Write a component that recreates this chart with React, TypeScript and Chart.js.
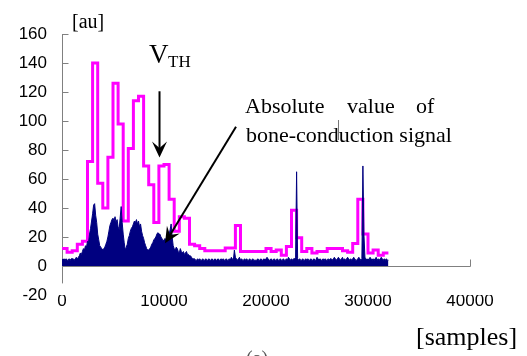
import { useEffect, useRef } from 'react';
import { Chart, registerables } from 'chart.js';

Chart.register(...registerables);

// ---- data ----
// threshold V_TH, one value per block of 500 samples (0 .. 32000)
const MAG_BLOCK = 500;
const thresholdValues = [
  12, 9.5, 10.5, 15, 17, 72, 140, 57, 40, 75,
  126, 98, 31, 81, 114, 117, 69, 56, 30, 69,
  70, 46, 24, 34, 33, 15, 14, 12, 10.5, 10.5,
  10.5, 10.5, 12.5, 12.5, 28, 10, 10, 10, 10, 10,
  12, 10, 11, 7.5, 13.5, 38.5, 19.5, 10, 12, 9,
  10, 10, 12, 12, 12, 10.5, 9.5, 15.5, 46, 22,
  9, 11, 7.5, 9,
];

// absolute value of bone-conduction signal, one value per 100 samples
const NAVY_STEP = 100;
const signalValues = [
  5, 4, 5, 4, 5, 4, 4, 5, 4, 5,
  5, 5, 4, 5, 6, 5, 6, 7, 9, 8,
  10, 12, 11, 14, 13, 17, 16, 22, 26, 31,
  36, 42, 43, 35, 30, 22, 18, 14, 13, 12,
  11, 12, 13, 15, 17, 20, 24, 28, 30, 32,
  33, 31, 34, 30, 32, 27, 25, 33, 41, 30,
  22, 16, 11, 13, 15, 19, 21, 24, 26, 27,
  29, 31, 30, 32, 29, 31, 27, 29, 24, 21,
  19, 16, 14, 12, 11, 11, 12, 13, 15, 16,
  18, 19, 20, 22, 23, 22, 22, 20, 19, 17,
  18, 19, 17, 19, 21, 22, 25, 29, 20, 14,
  12, 11, 13, 12, 10, 9, 12, 10, 9, 10,
  8, 9, 10, 8, 8, 7, 7, 6, 5, 5,
  5, 4, 4, 5, 4, 5, 4, 4, 5, 4,
  4, 5, 4, 4, 5, 4, 4, 5, 4, 4,
  5, 4, 4, 5, 4, 4, 5, 4, 5, 4,
  4, 5, 4, 4, 5, 4, 6, 5, 4, 11,
  6, 5, 4, 5, 6, 4, 5, 4, 4, 5,
  4, 5, 4, 4, 5, 4, 4, 5, 4, 4,
  4, 4, 5, 4, 4, 5, 4, 4, 5, 4,
  5, 6, 5, 4, 4, 5, 4, 4, 5, 4,
  4, 5, 4, 4, 5, 4, 4, 5, 4, 4,
  5, 4, 6, 5, 4, 5, 4, 5, 5, 6,
  65, 5, 4, 5, 4, 4, 5, 4, 4, 5,
  4, 5, 4, 4, 5, 4, 4, 5, 4, 4,
  6, 5, 4, 5, 4, 4, 5, 4, 5, 4,
  4, 5, 4, 5, 5, 4, 5, 6, 5, 4,
  5, 6, 5, 4, 5, 6, 4, 5, 4, 5,
  6, 5, 4, 5, 4, 5, 6, 5, 4, 4,
  5, 6, 5, 4, 5, 69, 22, 6, 5, 4,
  5, 4, 6, 5, 4, 5, 4, 5, 6, 4,
  5, 4, 5, 6, 5, 4, 5, 4, 5, 4,
  4,
];

const xTicks = [0, 10000, 20000, 30000, 40000];
const yTicks = [-20, 0, 20, 40, 60, 80, 100, 120, 140, 160];
const Y_AXIS_LINE_END = -12;

// annotation arrows in data coordinates [sample, value]
const vthArrow = { from: [9560, 120.5], to: [9560, 74.8] };
const sigArrow = { from: [17060, 96], to: [10100, 15.7] };

const SERIF = '"Liberation Serif", "Times New Roman", serif';
const SANS = '"Liberation Sans", Arial, sans-serif';

function drawArrow(ctx: CanvasRenderingContext2D, x1: number, y1: number, x2: number, y2: number, len: number, half: number) {
  const dx = x2 - x1, dy = y2 - y1;
  const L = Math.hypot(dx, dy);
  const ux = dx / L, uy = dy / L;
  const nx = -uy, ny = ux;
  const bx = x2 - ux * len, by = y2 - uy * len;
  const notch = len * 0.6;
  const mx = x2 - ux * notch, my = y2 - uy * notch;
  ctx.beginPath();
  ctx.moveTo(x1, y1);
  ctx.lineTo(mx, my);
  ctx.stroke();
  ctx.beginPath();
  ctx.moveTo(x2, y2);
  ctx.lineTo(bx + nx * half, by + ny * half);
  ctx.lineTo(mx, my);
  ctx.lineTo(bx - nx * half, by - ny * half);
  ctx.closePath();
  ctx.fill();
}

const axesPlugin = {
  id: 'customAxes',
  beforeDatasetsDraw(chart: any) {
    const { ctx, scales } = chart;
    const xs = scales.x, ys = scales.y;
    ctx.save();
    ctx.strokeStyle = '#808080';
    ctx.lineWidth = 1;
    const x0 = Math.round(xs.getPixelForValue(0)) + 0.5;
    const y0 = Math.round(ys.getPixelForValue(0)) + 0.5;
    const yTop = ys.getPixelForValue(yTicks[yTicks.length - 1]);
    const yBot = ys.getPixelForValue(Y_AXIS_LINE_END);
    const xEnd = xs.getPixelForValue(xTicks[xTicks.length - 1]);
    ctx.beginPath();
    ctx.moveTo(x0, yTop);
    ctx.lineTo(x0, yBot);
    for (const v of yTicks) {
      if (v < Y_AXIS_LINE_END) continue;
      const py = Math.round(ys.getPixelForValue(v)) + 0.5;
      ctx.moveTo(x0, py);
      ctx.lineTo(x0 + 6, py);
    }
    ctx.moveTo(x0, y0);
    ctx.lineTo(xEnd + 0.5, y0);
    for (const v of xTicks) {
      if (v === 0) continue;
      const px = Math.round(xs.getPixelForValue(v)) + 0.5;
      ctx.moveTo(px, y0);
      ctx.lineTo(px, y0 - 7);
    }
    ctx.stroke();
    ctx.restore();
  },
  afterDraw(chart: any) {
    const { ctx, scales } = chart;
    const xs = scales.x, ys = scales.y;
    ctx.save();
    ctx.fillStyle = '#000';
    ctx.strokeStyle = '#000';
    ctx.textBaseline = 'alphabetic';
    ctx.textAlign = 'left';

    ctx.font = `20px ${SERIF}`;
    ctx.fillText('[au]', 72, 28);

    ctx.font = `27px ${SERIF}`;
    ctx.fillText('V', 149, 63);
    ctx.font = `17px ${SERIF}`;
    ctx.fillText('TH', 168, 67);

    ctx.font = `22px ${SERIF}`;
    ctx.fillText('Absolute', 245, 113);
    ctx.fillText('value', 347, 113);
    ctx.fillText('of', 416, 113);
    ctx.fillText('bone-conduction signal', 246, 142);

    ctx.font = `26px ${SERIF}`;
    ctx.fillText('[samples]', 416, 345);

    ctx.fillStyle = '#555';
    ctx.font = `20px ${SERIF}`;
    ctx.fillText('(a)', 246, 365);

    // small cursor artifact
    ctx.strokeStyle = '#777';
    ctx.lineWidth = 1;
    ctx.beginPath();
    ctx.moveTo(338.5, 120);
    ctx.lineTo(338.5, 140);
    ctx.stroke();

    ctx.fillStyle = '#000';
    ctx.strokeStyle = '#000';
    ctx.lineWidth = 2;
    const a1 = vthArrow, a2 = sigArrow;
    drawArrow(ctx,
      xs.getPixelForValue(a1.from[0]), ys.getPixelForValue(a1.from[1]),
      xs.getPixelForValue(a1.to[0]), ys.getPixelForValue(a1.to[1]), 16, 7.5);
    drawArrow(ctx,
      xs.getPixelForValue(a2.from[0]), ys.getPixelForValue(a2.from[1]),
      xs.getPixelForValue(a2.to[0]), ys.getPixelForValue(a2.to[1]), 16, 7.5);
    ctx.restore();
  },
};

export default function App() {
  const ref = useRef<HTMLCanvasElement | null>(null);
  useEffect(() => {
    if (!ref.current) return;
    const thresholdData = thresholdValues.map((v, k) => ({ x: k * MAG_BLOCK, y: v }));
    thresholdData.push({ x: thresholdValues.length * MAG_BLOCK, y: thresholdValues[thresholdValues.length - 1] });
    const signalData = signalValues.map((v, i) => ({ x: i * NAVY_STEP, y: v }));
    const chart = new Chart(ref.current, {
      type: 'line',
      data: {
        datasets: [
          {
            label: 'signal',
            data: signalData,
            borderColor: '#000080',
            backgroundColor: '#000080',
            borderWidth: 1,
            pointRadius: 0,
            fill: 'origin',
            tension: 0,
            order: 0,
          },
          {
            label: 'VTH',
            data: thresholdData,
            borderColor: '#FF00FF',
            backgroundColor: '#FF00FF',
            borderWidth: 3,
            pointRadius: 0,
            fill: false,
            stepped: true,
            order: 1,
          },
        ],
      },
      options: {
        responsive: false,
        animation: false,
        devicePixelRatio: 1,
        layout: { padding: { top: 34, right: 57, left: 0, bottom: 0 } },
        plugins: { legend: { display: false }, tooltip: { enabled: false } },
        scales: {
          x: {
            type: 'linear',
            min: 0,
            max: 40000,
            grid: { display: false, drawTicks: false },
            border: { display: false },
            ticks: {
              stepSize: 10000,
              color: '#000',
              font: { family: SANS, size: 17 },
              padding: -4,
              maxRotation: 0,
              callback: (v: any) => String(v),
            },
            afterFit: (s: any) => { s.height = 61; },
          },
          y: {
            type: 'linear',
            min: -20,
            max: 160,
            grid: { display: false, drawTicks: false },
            border: { display: false },
            ticks: {
              stepSize: 20,
              color: '#000',
              font: { family: SANS, size: 17 },
              padding: 15,
              callback: (v: any) => String(v),
            },
            afterFit: (s: any) => { s.width = 62; },
          },
        },
      },
      plugins: [axesPlugin],
    });
    return () => chart.destroy();
  }, []);
  return (
    <div style={{ position: 'absolute', left: 0, top: 0, width: 527, height: 356, background: '#fff' }}>
      <canvas ref={ref} width={527} height={356} style={{ display: 'block' }} />
    </div>
  );
}
